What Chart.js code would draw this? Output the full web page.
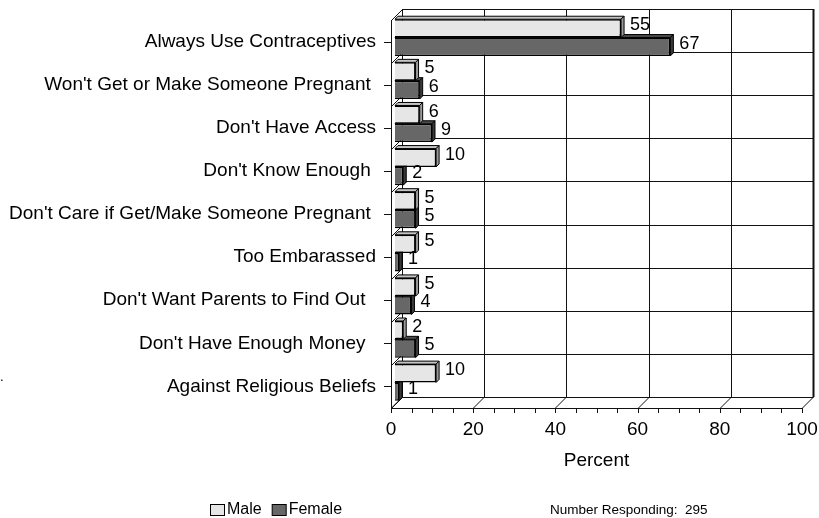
<!DOCTYPE html>
<html>
<head>
<meta charset="utf-8">
<script src="https://cdn.jsdelivr.net/npm/chart.js@4.4.0/dist/chart.umd.min.js"></script>
<style>
  html, body { margin: 0; padding: 0; background: #fff; }
  #wrap { width: 819px; height: 518px; position: relative; }
</style>
</head>
<body>
<div id="wrap"><canvas id="c" width="819" height="518"></canvas></div>
<script>
// Reasons given for not getting pregnant / making someone pregnant (percent)
const categories = [
  "Always Use Contraceptives",
  "Won't Get or Make Someone Pregnant ",
  "Don't Have Access",
  "Don't Know Enough ",
  "Don't Care if Get/Make Someone Pregnant ",
  "Too Embarassed",
  "Don't Want Parents to Find Out  ",
  "Don't Have Enough Money  ",
  "Against Religious Beliefs"
];
const maleValues   = [55, 5, 6, 10, 5, 5, 5, 2, 10];
const femaleValues = [67, 6, 9, 2, 5, 1, 4, 5, 1];
const xTicks = [0, 20, 40, 60, 80, 100];
const seriesNames = ["Male", "Female"];
const axisTitle = "Percent";
const footnote = "Number Responding:  295";

const FONT = "'Liberation Sans', Arial, Helvetica, sans-serif";
const WALL_DEPTH = 11;   // offset of the back wall from the front plane
const BAR_SHIFT = 4;     // bars sit slightly behind the front plane
const BAR_DEPTH = 3;     // thickness of each 3-D bar

const faceColors = [
  { top: '#c4c4c4', side: '#9a9a9a' },
  { top: '#4a4a4a', side: '#3a3a3a' }
];

function line(ctx, x1, y1, x2, y2) {
  ctx.beginPath();
  ctx.moveTo(x1, y1);
  ctx.lineTo(x2, y2);
  ctx.stroke();
}

const frame3d = {
  id: 'frame3d',
  beforeDatasetsDraw(chart) {
    const { ctx, chartArea: a, scales: { x } } = chart;
    const L = a.left, R = a.right, T = a.top, B = a.bottom, D = WALL_DEPTH;
    ctx.save();
    ctx.strokeStyle = '#111';
    ctx.lineWidth = 1;
    // vertical grid on the back wall and floor diagonals
    xTicks.forEach(v => {
      const px = Math.round(x.getPixelForValue(v)) + 0.5;
      line(ctx, px + D, T - D, px + D, B - D);
      line(ctx, px, B, px + D, B - D);
    });
    // category separators across left wall and back wall
    const n = categories.length;
    const h = (B - T) / n;
    for (let k = 0; k <= n; k++) {
      const py = Math.round(T + k * h) + 0.5;
      line(ctx, L + 0.5, py, L + D + 0.5, py - D);
      line(ctx, L + D + 0.5, py - D, Math.round(R) + D + 0.5, py - D);
    }
    // front edges: value axis and category axis
    line(ctx, L + 0.5, T, L + 0.5, B + 0.5);
    line(ctx, L, B + 0.5, R + 0.5, B + 0.5);
    // heavier right edge of the back wall
    ctx.lineWidth = 2;
    const rx = Math.round(x.getPixelForValue(100)) + D + 0.5;
    line(ctx, rx, T - D, rx, B - D);
    ctx.restore();

    ctx.save();
    ctx.translate(BAR_SHIFT, -BAR_SHIFT);
  },
  beforeDatasetDraw(chart, args) {
    const ctx = chart.ctx;
    const d = BAR_DEPTH;
    const col = faceColors[args.index];
    ctx.save();
    ctx.strokeStyle = '#000';
    ctx.lineWidth = 1;
    args.meta.data.forEach(el => {
      const p = el.getProps(['x', 'y', 'base', 'height'], true);
      const top = p.y - p.height / 2, bot = p.y + p.height / 2;
      ctx.beginPath();
      ctx.moveTo(p.base, top);
      ctx.lineTo(p.base + d, top - d);
      ctx.lineTo(p.x + d, top - d);
      ctx.lineTo(p.x, top);
      ctx.closePath();
      ctx.fillStyle = col.top;
      ctx.fill();
      ctx.stroke();
      ctx.beginPath();
      ctx.moveTo(p.x, top);
      ctx.lineTo(p.x + d, top - d);
      ctx.lineTo(p.x + d, bot - d);
      ctx.lineTo(p.x, bot);
      ctx.closePath();
      ctx.fillStyle = col.side;
      ctx.fill();
      ctx.stroke();
    });
    ctx.restore();
  },
  afterDatasetsDraw(chart) {
    const ctx = chart.ctx;
    ctx.restore();
    // value labels beside each bar
    ctx.save();
    ctx.fillStyle = '#000';
    ctx.font = `18px ${FONT}`;
    ctx.textAlign = 'left';
    ctx.textBaseline = 'middle';
    chart.data.datasets.forEach((ds, i) => {
      const meta = chart.getDatasetMeta(i);
      meta.data.forEach((el, j) => {
        ctx.fillText(String(ds.data[j]), el.x + BAR_SHIFT + 9, el.y - BAR_SHIFT - 3);
      });
    });
    ctx.restore();
  },
  afterDraw(chart) {
    const { ctx, chartArea: a, scales: { x, y } } = chart;
    ctx.save();
    ctx.strokeStyle = '#111';
    ctx.lineWidth = 1;
    // tick marks on the value axis, every 5
    for (let v = 0; v <= 100; v += 5) {
      const px = Math.round(x.getPixelForValue(v)) + 0.5;
      line(ctx, px, a.bottom, px, a.bottom + 5);
    }
    // tick marks on the category axis
    categories.forEach((c, j) => {
      const py = Math.round(y.getPixelForValue(j)) + 0.5;
      line(ctx, a.left - 7, py, a.left, py);
    });

    ctx.fillStyle = '#000';
    ctx.textBaseline = 'middle';
    ctx.textAlign = 'center';
    ctx.font = `19px ${FONT}`;
    ctx.fillText(axisTitle, (a.left + a.right) / 2, 461);

    // legend
    ctx.textAlign = 'left';
    ctx.font = `16px ${FONT}`;
    let lx = 210;
    seriesNames.forEach((name, i) => {
      ctx.fillStyle = chart.data.datasets[i].backgroundColor;
      ctx.fillRect(lx + 0.5, 504.5, 14, 11);
      ctx.strokeStyle = '#000';
      ctx.strokeRect(lx + 0.5, 504.5, 14, 11);
      ctx.fillStyle = '#000';
      ctx.fillText(name, lx + 17, 510);
      lx += 17 + ctx.measureText(name).width + 10;
    });

    ctx.font = `13.5px ${FONT}`;
    ctx.fillText(footnote, 550, 510);

    ctx.font = `13px ${FONT}`;
    ctx.fillText('.', 0, 377);
    ctx.restore();
  }
};

new Chart(document.getElementById('c'), {
  type: 'bar',
  data: {
    labels: categories,
    datasets: [
      { label: seriesNames[0], data: maleValues, backgroundColor: '#e6e6e6',
        borderColor: '#000', borderWidth: 1.5, clip: false,
        categoryPercentage: 0.85, barPercentage: 1.0 },
      { label: seriesNames[1], data: femaleValues, backgroundColor: '#676767',
        borderColor: '#000', borderWidth: 1.5, clip: false,
        categoryPercentage: 0.85, barPercentage: 1.0 }
    ]
  },
  options: {
    indexAxis: 'y',
    responsive: false,
    animation: false,
    devicePixelRatio: 1,
    layout: { autoPadding: false, padding: { left: 0, right: 17, top: 20, bottom: 70 } },
    plugins: { legend: { display: false }, tooltip: { enabled: false } },
    scales: {
      x: {
        min: 0, max: 100,
        ticks: { stepSize: 20, color: '#000', padding: 0, maxRotation: 0,
                 font: { family: FONT, size: 19 } },
        grid: { display: false, drawTicks: true, tickLength: 10 },
        border: { display: false },
        afterFit(scale) { scale.height = 40; }
      },
      y: {
        ticks: { color: '#000', padding: 0, autoSkip: false,
                 font: { family: FONT, size: 19 } },
        grid: { display: false, drawTicks: true, tickLength: 15 },
        border: { display: false },
        afterFit(scale) { scale.width = 391; }
      }
    }
  },
  plugins: [frame3d]
});
</script>
</body>
</html>
